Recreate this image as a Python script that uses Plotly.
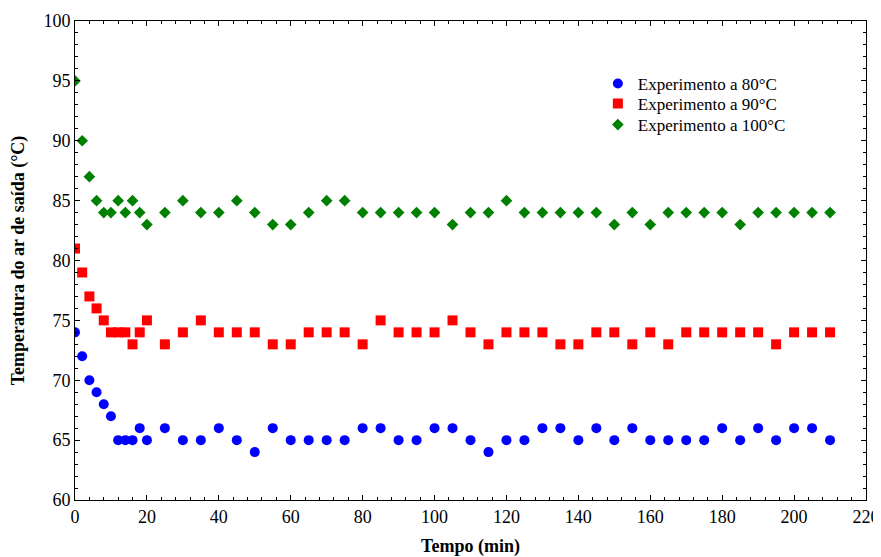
import plotly.graph_objects as go

tempo = [0, 2, 4, 6, 8, 10, 12, 14, 16, 18, 20, 25, 30, 35, 40, 45, 50, 55, 60, 65,
         70, 75, 80, 85, 90, 95, 100, 105, 110, 115, 120, 125, 130, 135, 140, 145,
         150, 155, 160, 165, 170, 175, 180, 185, 190, 195, 200, 205, 210]

exp80 = [74, 72, 70, 69, 68, 67, 65, 65, 65, 66, 65, 66, 65, 65, 66, 65, 64, 66, 65, 65,
         65, 65, 66, 66, 65, 65, 66, 66, 65, 64, 65, 65, 66, 66, 65, 66,
         65, 66, 65, 65, 65, 65, 66, 65, 66, 65, 66, 66, 65]

exp90 = [81, 79, 77, 76, 75, 74, 74, 74, 73, 74, 75, 73, 74, 75, 74, 74, 74, 73, 73, 74,
         74, 74, 73, 75, 74, 74, 74, 75, 74, 73, 74, 74, 74, 73, 73, 74,
         74, 73, 74, 73, 74, 74, 74, 74, 74, 73, 74, 74, 74]

exp100 = [95, 90, 87, 85, 84, 84, 85, 84, 85, 84, 83, 84, 85, 84, 84, 85, 84, 83, 83, 84,
          85, 85, 84, 84, 84, 84, 84, 83, 84, 84, 85, 84, 84, 84, 84, 84,
          83, 84, 83, 84, 84, 84, 84, 83, 84, 84, 84, 84, 84]

names = ["Experimento a 80°C", "Experimento a 90°C", "Experimento a 100°C"]

fig = go.Figure()
fig.add_trace(go.Scatter(x=tempo, y=exp80, mode="markers", name=names[0], legend="legend",
                         marker=dict(symbol="circle", size=10, color="#0000FF")))
fig.add_trace(go.Scatter(x=tempo, y=exp90, mode="markers", name=names[1], legend="legend2",
                         marker=dict(symbol="square", size=10, color="#FF0000")))
fig.add_trace(go.Scatter(x=tempo, y=exp100, mode="markers", name=names[2], legend="legend3",
                         marker=dict(symbol="diamond", size=9, color="#008000")))

font_family = "Liberation Serif"
axis_common = dict(
    showgrid=False, zeroline=False, showline=True, linecolor="black", linewidth=1,
    mirror="ticks", ticks="inside", ticklen=5, tickcolor="black", automargin=False,
    tickfont=dict(family=font_family, size=18, color="black"),
)

fig.update_xaxes(range=[0, 220], dtick=20, tick0=0,
                 minor=dict(dtick=4, ticks="inside", ticklen=3, tickcolor="black"),
                 title=dict(text="<b>Tempo (min)</b>", font=dict(family=font_family, size=18, color="black"),
                            standoff=15),
                 **axis_common)
fig.update_yaxes(range=[60, 100], dtick=5, tick0=60,
                 minor=dict(dtick=1, ticks="inside", ticklen=3, tickcolor="black"),
                 title=dict(text="<b>Temperatura do ar de saída (°C)</b>",
                            font=dict(family=font_family, size=18, color="black"), standoff=16),
                 **axis_common)

leg_common = dict(x=0.661, xanchor="left", yanchor="middle",
                  font=dict(family=font_family, size=17, color="black"),
                  bgcolor="rgba(0,0,0,0)", borderwidth=0)

fig.update_layout(
    width=873, height=549,
    margin=dict(l=67, r=15, t=13, b=57),
    plot_bgcolor="white", paper_bgcolor="white",
    showlegend=True,
    legend=dict(y=0.8685, **leg_common),
    legend2=dict(y=0.8267, **leg_common),
    legend3=dict(y=0.7829, **leg_common),
)

fig.write_html("out.html")
